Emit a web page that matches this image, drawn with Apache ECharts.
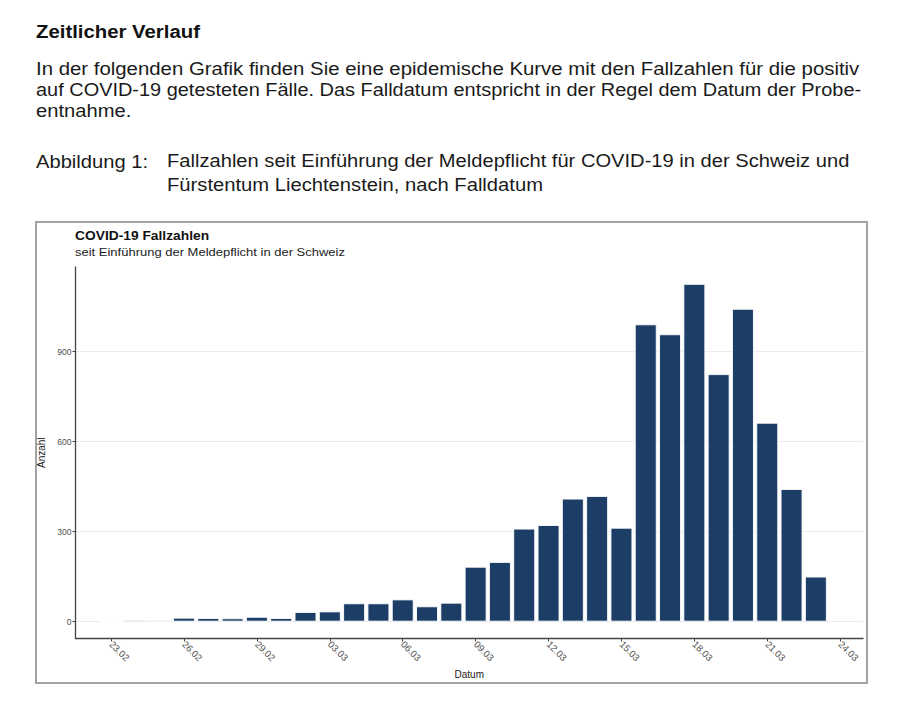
<!DOCTYPE html>
<html>
<head>
<meta charset="utf-8">
<script src="https://cdn.jsdelivr.net/npm/echarts@6/dist/echarts.min.js"></script>
<style>
html,body{margin:0;padding:0;background:#fff;}
#chart{width:900px;height:721px;}
</style>
</head>
<body>
<div id="chart"></div>
<script>
// ---- data ----
const dates = ['23.02','24.02','25.02','26.02','27.02','28.02','29.02','01.03','02.03','03.03',
  '04.03','05.03','06.03','07.03','08.03','09.03','10.03','11.03','12.03','13.03',
  '14.03','15.03','16.03','17.03','18.03','19.03','20.03','21.03','22.03','23.03'];
const cases = [0,4,4,13,12,11,16,12,32,34,
  61,61,74,51,63,183,199,310,322,410,
  419,313,991,958,1126,825,1043,663,442,150];
const xTickLabels = ['23.02','26.02','29.02','03.03','06.03','09.03','12.03','15.03','18.03','21.03','24.03'];
const yTicks = [0,300,600,900];

const heading = 'Zeitlicher Verlauf';
const paragraph = [
  'In der folgenden Grafik finden Sie eine epidemische Kurve mit den Fallzahlen für die positiv',
  'auf COVID-19 getesteten Fälle. Das Falldatum entspricht in der Regel dem Datum der Probe-',
  'entnahme.'
];
const figLabel = 'Abbildung 1:';
const figCaption = [
  'Fallzahlen seit Einführung der Meldepflicht für COVID-19 in der Schweiz und',
  'Fürstentum Liechtenstein, nach Falldatum'
];
const chartTitle = 'COVID-19 Fallzahlen';
const chartSubtitle = 'seit Einführung der Meldepflicht in der Schweiz';

// day offset from first date (year 2020)
function dayIndex(s) {
  const [d, m] = s.split('.').map(Number);
  const t = Date.UTC(2020, m - 1, d);
  const t0 = Date.UTC(2020, 1, 23);
  return Math.round((t - t0) / 86400000);
}
const labelByIndex = {};
xTickLabels.forEach(l => { labelByIndex[dayIndex(l)] = l; });

const FONT = '"Liberation Sans", Arial, sans-serif';

function txt(x, y, text, size, weight, color, sx) {
  return {
    type: 'text', x: x, y: y, scaleX: sx,
    style: {
      x: 0, y: 0, text: text,
      font: (weight || 'normal') + ' ' + size + 'px ' + FONT,
      fill: color || '#1a1a1a',
      align: 'left', verticalAlign: 'middle'
    }
  };
}

const graphics = [
  { type: 'rect', shape: { x: 36, y: 222, width: 831, height: 461 },
    style: { fill: 'none', stroke: '#a3a3a3', lineWidth: 2 }, silent: true },
  txt(36, 31.5, heading, 18.5, 'bold', '#111', 1.1),
  txt(36, 68.8, paragraph[0], 18.5, 'normal', '#1a1a1a', 1.102),
  txt(36, 89.6, paragraph[1], 18.5, 'normal', '#1a1a1a', 1.078),
  txt(36, 110.4, paragraph[2], 18.5, 'normal', '#1a1a1a', 1.09),
  txt(36, 161, figLabel, 18.5, 'normal', '#1a1a1a', 1.09),
  txt(167, 161, figCaption[0], 18.5, 'normal', '#1a1a1a', 1.088),
  txt(167, 184, figCaption[1], 18.5, 'normal', '#1a1a1a', 1.092),
  txt(75, 235.5, chartTitle, 12, 'bold', '#111', 1.15),
  txt(75, 252, chartSubtitle, 11.7, 'normal', '#222', 1.11)
];

const chart = echarts.init(document.getElementById('chart'), null, { renderer: 'svg' });
chart.setOption({
  animation: false,
  backgroundColor: '#ffffff',
  graphic: graphics,
  grid: { left: 75.5, right: 37, top: 267, bottom: 82.5, containLabel: false },
  xAxis: {
    type: 'value',
    min: -1.465, max: 30.94,
    name: 'Datum', nameLocation: 'middle', nameGap: 30,
    nameTextStyle: { fontFamily: FONT, fontSize: 10, color: '#222' },
    axisLine: { show: true, onZero: false, lineStyle: { color: '#444', width: 1.3 } },
    axisTick: { show: true, length: 3, lineStyle: { color: '#444' },
      customValues: xTickLabels.map(dayIndex) },
    axisLabel: {
      customValues: xTickLabels.map(dayIndex),
      rotate: -45, margin: 4, fontFamily: FONT, fontSize: 9.5, color: '#4d4d4d',
      formatter: v => labelByIndex[Math.round(v)] || ''
    },
    splitLine: { show: false }
  },
  yAxis: {
    type: 'value',
    min: -56.3, max: 1182.3,
    name: 'Anzahl', nameLocation: 'middle', nameGap: 20, nameRotate: 90,
    nameTextStyle: { fontFamily: FONT, fontSize: 10, color: '#222' },
    axisLine: { show: true, onZero: false, lineStyle: { color: '#444', width: 1.3 } },
    axisTick: { show: true, length: 3, lineStyle: { color: '#444' }, customValues: yTicks },
    axisLabel: { customValues: yTicks, margin: 4, fontFamily: FONT, fontSize: 8.5, color: '#4d4d4d' },
    splitLine: { show: true, lineStyle: { color: '#ececec', width: 1 } }
  },
  series: [{
    type: 'bar',
    data: dates.map((d, i) => [dayIndex(d), cases[i]]),
    barWidth: 21.9,
    itemStyle: { color: '#1b3d66', borderColor: '#ffffff', borderWidth: 0.9 }
  }]
});
</script>
</body>
</html>
